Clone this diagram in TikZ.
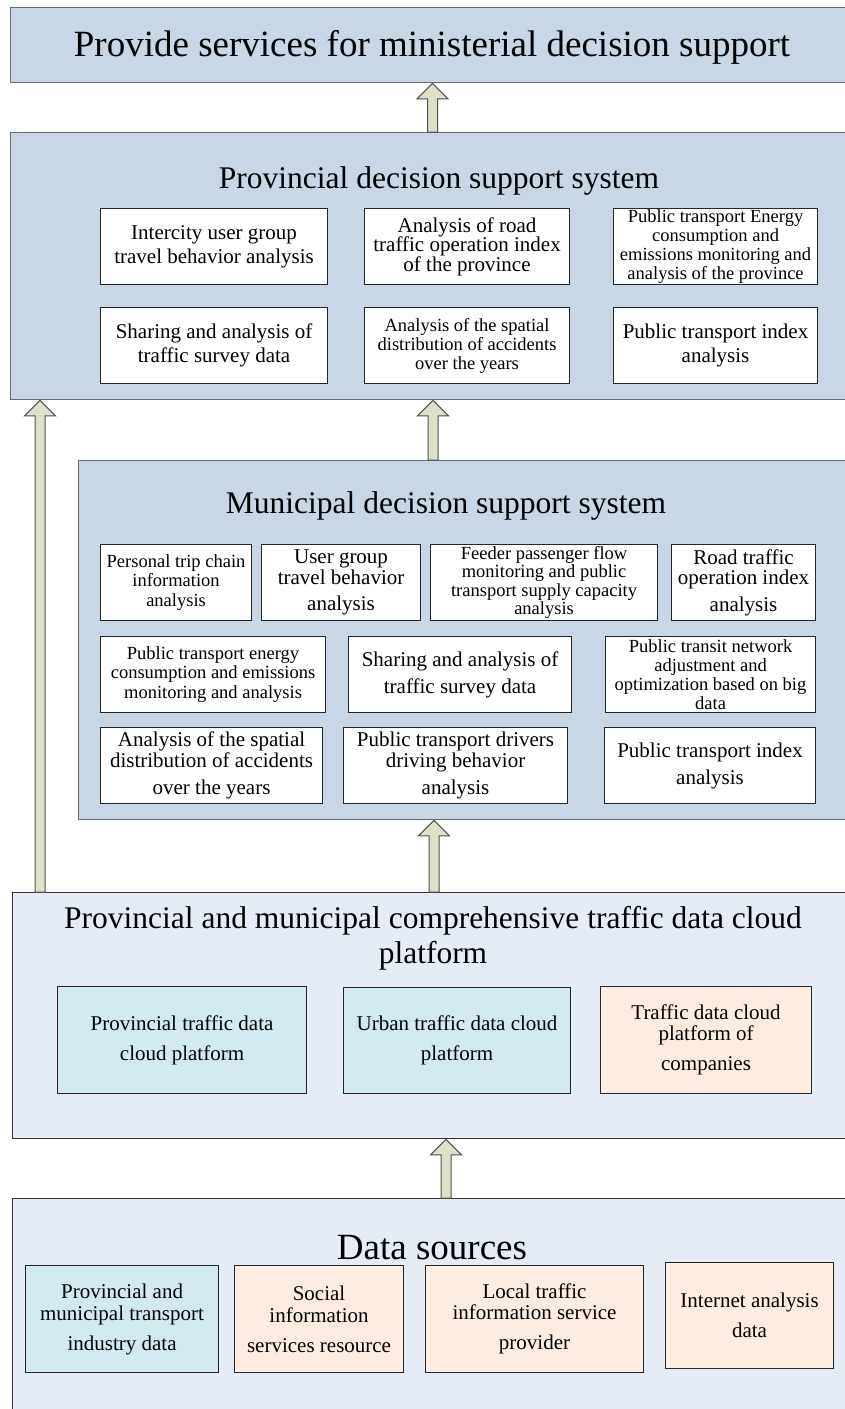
\documentclass[tikz,border=0pt]{standalone}
\usepackage{fontspec}
\setmainfont{Liberation Serif}
\usetikzlibrary{calc}

\definecolor{layerfill}{RGB}{201,214,229}
\definecolor{platefill}{RGB}{230,236,246}
\definecolor{layerline}{RGB}{105,105,110}
\definecolor{cyanfill}{RGB}{210,233,239}
\definecolor{peachfill}{RGB}{252,236,226}
\definecolor{arrowfill}{RGB}{221,225,201}
\definecolor{arrowline}{RGB}{80,80,80}

\newcommand\fsz[2]{\fontsize{#1}{#2}\selectfont}

% a box given by its corners (x1,y1) and (x2,y2), y growing downwards
\newcommand\cellbox[7]{%
  \node[cell,#6,minimum width={#4pt-#2pt},minimum height={#5pt-#3pt}] (#1) at (#2,#3) {#7};}

% a hollow block arrow at x=#1, rising from anchor #2 to anchor #3
\newcommand\blockarrow[3]{%
  \path[blockarrow] let \p1=(#2), \p2=(#3) in
    (#1pt-5pt,\y1) -- (#1pt-5pt,\y2-15.5pt) -- (#1pt-15.5pt,\y2-15.5pt) -- (#1pt,\y2)
    -- (#1pt+15.5pt,\y2-15.5pt) -- (#1pt+5pt,\y2-15.5pt) -- (#1pt+5pt,\y1) -- cycle;}

\tikzset{
  layer/.style={draw=layerline, line width=1.4pt, fill=layerfill, inner sep=0pt, anchor=north west},
  plate/.style={layer, draw=black!80, fill=platefill},
  cell/.style={draw=black!85, line width=1.1pt, fill=white, inner sep=0pt, anchor=north west, align=center},
  cyanbox/.style={fill=cyanfill},
  peachbox/.style={fill=peachfill},
  title/.style={inner sep=0pt, align=center},
  blockarrow/.style={draw=arrowline, line width=1pt, fill=arrowfill, line join=miter},
}

\begin{document}
\begin{tikzpicture}[x=1pt,y=-1pt]
\useasboundingbox (0,0) rectangle (845,1409);
\fill[white] (0,0) rectangle (845,1409);

% ---- layers ----
\node[layer,minimum width=850pt,minimum height=75pt] (top) at (10,7) {};
\node[title,font=\fsz{37}{40}] (toptitle) at (432,47) {Provide services for ministerial decision support};

\node[layer,minimum width=850pt,minimum height=267pt] (prov) at (10,132) {};
\node[title,font=\fsz{31.5}{36}] (provtitle) at (439,181) {Provincial decision support system};

\node[layer,minimum width=780pt,minimum height=359pt] (mun) at (78,460) {};
\node[title,font=\fsz{31.5}{36}] (muntitle) at (446,506) {Municipal decision support system};

\node[plate,minimum width=850pt,minimum height=246pt] (cloud) at (12,892) {};
\node[title,font=\fsz{31.5}{35}] (cloudtitle) at (433,938) {Provincial and municipal comprehensive traffic data cloud\\platform};

\node[plate,minimum width=850pt,minimum height=230pt] (data) at (12,1198) {};
\node[title,font=\fsz{37}{40}] (datatitle) at (432,1248) {Data sources};

% ---- provincial modules ----
\cellbox{p1}{100}{208}{327}{284}{font=\fsz{21}{24}}{Intercity user group\\travel behavior analysis}
\cellbox{p2}{364}{208}{569}{284}{font=\fsz{21}{19.5}}{Analysis of road\\traffic operation index\\of the province}
\cellbox{p3}{613}{208}{817}{284}{font=\fsz{18.5}{19}}{Public transport Energy\\consumption and\\emissions monitoring and\\analysis of the province}
\cellbox{p4}{100}{307}{327}{383}{font=\fsz{21}{24}}{Sharing and analysis of\\traffic survey data}
\cellbox{p5}{364}{307}{569}{383}{font=\fsz{18.5}{19}}{Analysis of the spatial\\distribution of accidents\\over the years}
\cellbox{p6}{613}{307}{817}{383}{font=\fsz{21}{24}}{Public transport index\\analysis}

% ---- municipal modules ----
\cellbox{m1}{100}{544}{251}{620}{font=\fsz{18.5}{19.5}}{Personal trip chain\\information\\analysis}
\cellbox{m2}{261}{544}{420}{620}{font=\fsz{21}{20.5}}{User group\\travel behavior\\[6pt]analysis}
\cellbox{m3}{430}{544}{657}{620}{font=\fsz{18.5}{18.5}}{Feeder passenger flow\\monitoring and public\\transport supply capacity\\analysis}
\cellbox{m4}{671}{544}{815}{620}{font=\fsz{21}{20.5}}{Road traffic\\operation index\\[6pt]analysis}
\cellbox{m5}{100}{636}{325}{712}{font=\fsz{18.5}{19.5}}{Public transport energy\\consumption and emissions\\monitoring and analysis}
\cellbox{m6}{348}{636}{571}{712}{font=\fsz{21}{27}}{Sharing and analysis of\\traffic survey data}
\cellbox{m7}{605}{636}{815}{712}{font=\fsz{18.5}{19}}{Public transit network\\adjustment and\\optimization based on big\\data}
\cellbox{m8}{100}{727}{322}{803}{font=\fsz{21}{21}}{Analysis of the spatial\\distribution of accidents\\[6pt]over the years}
\cellbox{m9}{343}{727}{567}{803}{font=\fsz{21}{21}}{Public transport drivers\\driving behavior\\[6pt]analysis}
\cellbox{m10}{604}{727}{815}{803}{font=\fsz{21}{27}}{Public transport index\\analysis}

% ---- cloud platforms ----
\cellbox{c1}{57}{986}{306}{1093}{cyanbox,font=\fsz{21}{30}}{Provincial traffic data\\cloud platform}
\cellbox{c2}{343}{987}{570}{1093}{cyanbox,font=\fsz{21}{30}}{Urban traffic data cloud\\platform}
\cellbox{c3}{600}{986}{811}{1093}{peachbox,font=\fsz{21}{21}}{Traffic data cloud\\platform of\\[9pt]companies}

% ---- data sources ----
\cellbox{d1}{25}{1265}{218}{1372}{cyanbox,font=\fsz{21}{22}}{Provincial and\\municipal transport\\[8pt]industry data}
\cellbox{d2}{234}{1265}{403}{1372}{peachbox,font=\fsz{21}{22}}{Social\\information\\[8pt]services resource}
\cellbox{d3}{425}{1265}{643}{1372}{peachbox,font=\fsz{21}{21}}{Local traffic\\information service\\[9pt]provider}
\cellbox{d4}{665}{1262}{833}{1368}{peachbox,font=\fsz{21}{30}}{Internet analysis\\data}

% ---- upward flows ----
\blockarrow{432.5}{prov.north}{top.south}
\blockarrow{40}{cloud.north}{prov.south}
\blockarrow{433}{mun.north}{prov.south}
\blockarrow{434}{cloud.north}{mun.south}
\blockarrow{446}{data.north}{cloud.south}
\end{tikzpicture}
\end{document}
